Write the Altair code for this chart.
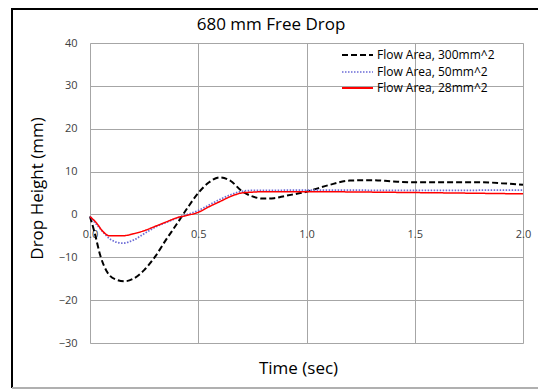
import altair as alt
import pandas as pd

t_black = [0.0, 0.02, 0.05, 0.08, 0.12, 0.16, 0.2, 0.25, 0.3, 0.35, 0.4, 0.45, 0.5, 0.55, 0.6, 0.65,
           0.7, 0.75, 0.8, 0.85, 0.9, 1.0, 1.1, 1.2, 1.3, 1.4, 1.5, 1.6, 1.7, 1.8, 1.9, 2.0]
v_black = [-0.5, -4.0, -10.0, -13.5, -15.2, -15.6, -15.0, -13.0, -9.9, -6.0, -2.3, 1.5, 5.0, 7.5, 8.65, 7.8,
           5.5, 4.2, 3.7, 3.8, 4.3, 5.3, 6.8, 7.9, 8.0, 7.7, 7.5, 7.5, 7.5, 7.5, 7.3, 6.9]

t_blue = [0.0, 0.05, 0.1, 0.15, 0.2, 0.25, 0.3, 0.35, 0.4, 0.45, 0.5, 0.55, 0.6, 0.65, 0.7, 0.75, 0.8,
          1.0, 1.5, 2.0]
v_blue = [-0.5, -3.5, -6.0, -6.7, -6.0, -4.5, -3.0, -1.9, -0.9, 0.0, 0.9, 2.2, 3.5, 4.6, 5.4, 5.6, 5.6,
          5.7, 5.6, 5.7]

t_red = [0.0, 0.03, 0.06, 0.09, 0.15, 0.2, 0.25, 0.3, 0.35, 0.4, 0.45, 0.5, 0.55, 0.6, 0.65, 0.7, 0.75,
         0.8, 1.0, 1.5, 2.0]
v_red = [-0.5, -2.0, -4.0, -5.0, -5.0, -4.5, -3.8, -2.8, -1.8, -0.8, -0.2, 0.5, 1.8, 3.0, 4.2, 5.0, 5.2,
         5.3, 5.3, 5.1, 4.8]

series = ["Flow Area, 300mm^2", "Flow Area, 50mm^2", "Flow Area, 28mm^2"]
colors = ["#000000", "#6b6bd6", "#ff0000"]
dashes = [[6, 3], [1.5, 1.5], [1, 0]]
widths = [2, 1.5, 2]
chart_title = "680 mm Free Drop"

rows = []
for name, ts, vs in zip(series, [t_black, t_blue, t_red], [v_black, v_blue, v_red]):
    for t, v in zip(ts, vs):
        rows.append({"Time": t, "Height": v, "Series": name})
df = pd.DataFrame(rows)

FONT = "Open Sans"

x = alt.X("Time:Q", scale=alt.Scale(domain=[0, 2], nice=False),
          axis=alt.Axis(values=[0, 0.5, 1.0, 1.5, 2.0], format=".1f", title="Time (sec)",
                        offset=-128.6, domain=False, ticks=False, labelPadding=14,
                        labelFontSize=11, labelColor="#404040", labelFont=FONT,
                        grid=True, gridColor="#a6a6a6", gridWidth=1,
                        titleFont=FONT, titleFontSize=17, titleFontWeight="normal",
                        titleColor="#000000", titleX=208, titleY=154, titleBaseline="middle",
                        labelFlush=False))
y = alt.Y("Height:Q", scale=alt.Scale(domain=[-30, 40], nice=False),
          axis=alt.Axis(values=list(range(-30, 41, 10)), title="Drop Height (mm)",
                        domain=False, ticks=False, labelPadding=13,
                        labelFontSize=11, labelColor="#404040", labelFont=FONT,
                        grid=True, gridColor="#a6a6a6", gridWidth=1,
                        titleFont=FONT, titleFontSize=17, titleFontWeight="normal",
                        titleColor="#000000", titleX=-53, titleY=145, titleBaseline="middle",
                        titleAlign="center"))

lines = alt.Chart(df).mark_line(interpolate="monotone").encode(
    x=x, y=y,
    color=alt.Color("Series:N", sort=series,
                    scale=alt.Scale(domain=series, range=colors), legend=None),
    strokeDash=alt.StrokeDash("Series:N", sort=series,
                              scale=alt.Scale(domain=series, range=dashes), legend=None),
    strokeWidth=alt.StrokeWidth("Series:N", sort=series,
                                scale=alt.Scale(domain=series, range=widths), legend=None),
)

# manual legend (layout only)
legend_layers = []
row_y = [12, 29, 45]
for name, c, d, w, ry in zip(series, colors, dashes, widths, row_y):
    legend_layers.append(alt.Chart().mark_rule(color=c, strokeDash=d, strokeWidth=w).encode(
        x=alt.value(252), x2=alt.value(283), y=alt.value(ry)))
    legend_layers.append(alt.Chart().mark_text(align="left", baseline="middle", font=FONT,
                                               fontSize=12, color="#000000").encode(
        x=alt.value(287), y=alt.value(ry), text=alt.value(name)))

title_mark = alt.Chart().mark_text(align="center", baseline="alphabetic", font=FONT,
                                   fontSize=17, color="#000000").encode(
    x=alt.value(181), y=alt.value(-13), text=alt.value(chart_title))

frame_left = alt.Chart().mark_rule(color="#000000", strokeWidth=2).encode(
    x=alt.value(-78), y=alt.value(-35), y2=alt.value(345))
frame_top = alt.Chart().mark_rule(color="#000000", strokeWidth=2).encode(
    x=alt.value(-78), x2=alt.value(453), y=alt.value(-34))
frame_right = alt.Chart().mark_rule(color="#d0d0d0", strokeWidth=1).encode(
    x=alt.value(453), y=alt.value(-35), y2=alt.value(345))
frame_bottom = alt.Chart().mark_rule(color="#b0b0b0", strokeWidth=2).encode(
    x=alt.value(-78), x2=alt.value(453), y=alt.value(345))

chart = alt.layer(lines, *legend_layers, title_mark,
                  frame_left, frame_top, frame_right, frame_bottom).properties(
    width=433, height=300,
    autosize=alt.AutoSizeParams(type="none"),
    padding={"left": 82, "top": 35, "right": 15, "bottom": 47},
).configure_view(stroke="#8c8c8c", strokeWidth=1).configure(background="#ffffff")

chart.save("out.html", embed_options={"renderer": "svg", "actions": False})
